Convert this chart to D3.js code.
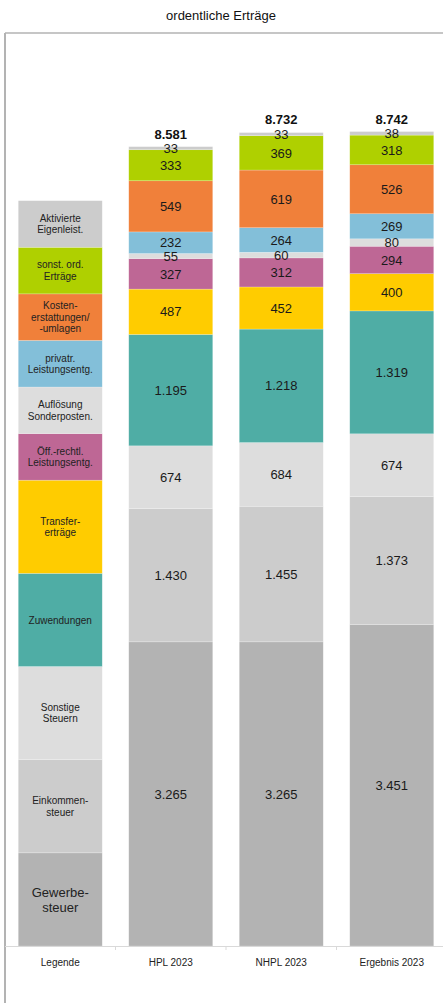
<!DOCTYPE html>
<html>
<head>
<meta charset="utf-8">
<script src="https://cdn.jsdelivr.net/npm/d3@7"></script>
<style>
  body { margin: 0; background: #fff; }
  text { font-family: "Liberation Sans", Arial, sans-serif; }
</style>
</head>
<body>
<div id="chart"></div>
<script>
// categories (x axis)
var categories = ["Legende", "HPL 2023", "NHPL 2023", "Ergebnis 2023"]

// series, bottom to top
var seriesKeys = ["Gewerbesteuer", "Einkommensteuer", "Sonstige Steuern", "Zuwendungen",
  "Transfererträge", "Öff.-rechtl. Leistungsentg.", "Auflösung Sonderposten",
  "privatr. Leistungsentg.", "Kostenerstattungen", "sonst. ord. Erträge", "Aktivierte Eigenleist."]
var seriesColors = ["#b3b3b3", "#cccccc", "#dddddd", "#4fada5", "#ffcc00", "#be6795",
  "#dddddd", "#83bfd9", "#f0803a", "#afd000", "#cccccc"]
// text shown inside the legend column
var legendLines = [["Gewerbe-", "steuer"], ["Einkommen-", "steuer"], ["Sonstige", "Steuern"],
  ["Zuwendungen"], ["Transfer-", "erträge"], ["Öff.-rechtl.", "Leistungsentg."],
  ["Auflösung", "Sonderposten."], ["privatr.", "Leistungsentg."],
  ["Kosten-", "erstattungen/", "-umlagen"], ["sonst. ord.", "Erträge"], ["Aktivierte", "Eigenleist."]]

// values per column (Mio. €), same order as seriesKeys
var legendValues = [1000, 1000, 1000, 1000, 1000, 500, 500, 500, 500, 500, 500]
var hpl2023 = [3265, 1430, 674, 1195, 487, 327, 55, 232, 549, 333, 33]
var nhpl2023 = [3265, 1455, 684, 1218, 452, 312, 60, 264, 619, 369, 33]
var ergebnis2023 = [3451, 1373, 674, 1319, 400, 294, 80, 269, 526, 318, 38]
var totals = [null, 8581, 8732, 8742]

var width = 443
var height = 1003
var baseY = 946
var topY = 33

var de = d3.formatLocale({ decimal: ",", thousands: ".", grouping: [3], currency: ["", " €"] })
var fmt = de.format(",d")

// build rows for the stack
var columns = [legendValues, hpl2023, nhpl2023, ergebnis2023]
var rows = categories.map(function (c, i) {
  var r = { cat: c, idx: i }
  seriesKeys.forEach(function (k, j) { r[k] = columns[i][j] })
  return r
})

var stack = d3.stack().keys(seriesKeys)
var layers = stack(rows)

var x = d3.scaleBand().domain(categories).range([5, 447]).padding(0)
var barW = x.bandwidth() * 0.76
var barOff = (x.bandwidth() - barW) / 2

var y = d3.scaleLinear().domain([0, 9800]).range([baseY, topY])

var color = d3.scaleOrdinal().domain(seriesKeys).range(seriesColors)

var svg = d3.select("#chart").append("svg")
  .attr("width", width)
  .attr("height", height)

// title
svg.append("text")
  .attr("x", 221)
  .attr("y", 20)
  .attr("text-anchor", "middle")
  .style("font-size", "13px")
  .attr("fill", "#111")
  .text("ordentliche Erträge")

// frame
svg.append("line").attr("x1", 5).attr("x2", 443).attr("y1", topY).attr("y2", topY)
  .attr("stroke", "#b3b3b3").attr("stroke-width", 1.5)
svg.append("line").attr("x1", 5).attr("x2", 5).attr("y1", topY).attr("y2", height)
  .attr("stroke", "#b3b3b3").attr("stroke-width", 2)

// bars
var groups = svg.selectAll("g.layer")
  .data(layers)
  .enter()
  .append("g")
  .attr("class", "layer")
  .attr("fill", function (d) { return color(d.key) })

groups.selectAll("rect")
  .data(function (d) { return d })
  .enter()
  .append("rect")
  .attr("x", function (d) { return x(d.data.cat) + barOff })
  .attr("width", barW)
  .attr("y", function (d) { return y(d[1]) })
  .attr("height", function (d) { return y(d[0]) - y(d[1]) })
  .attr("stroke", "rgba(255,255,255,0.35)")
  .attr("stroke-width", 0.6)

// value labels (not for the legend column)
layers.forEach(function (layer) {
  svg.selectAll(null)
    .data(layer.filter(function (d) { return d.data.idx > 0 }))
    .enter()
    .append("text")
    .attr("x", function (d) { return x(d.data.cat) + x.bandwidth() / 2 })
    .attr("y", function (d) { return (y(d[0]) + y(d[1])) / 2 })
    .attr("dy", "0.36em")
    .attr("text-anchor", "middle")
    .style("font-size", "13px")
    .attr("fill", "#1a1a1a")
    .text(function (d) { return fmt(d[1] - d[0]) })
})

// legend labels inside the legend column
var legendCol = layers.map(function (l, j) { return { seg: l[0], lines: legendLines[j], key: l.key } })
legendCol.forEach(function (item) {
  var cy = (y(item.seg[0]) + y(item.seg[1])) / 2
  var big = item.key === "Gewerbesteuer"
  var fs = big ? 13 : 10
  var lh = big ? 15 : 11.5
  var t = svg.append("text")
    .attr("text-anchor", "middle")
    .style("font-size", fs + "px")
    .attr("fill", "#222")
  item.lines.forEach(function (ln, i) {
    t.append("tspan")
      .attr("x", x("Legende") + x.bandwidth() / 2)
      .attr("y", cy + (i - (item.lines.length - 1) / 2) * lh)
      .attr("dy", "0.36em")
      .text(ln)
  })
})

// totals
svg.selectAll("text.total")
  .data(rows.filter(function (r) { return totals[r.idx] !== null }))
  .enter()
  .append("text")
  .attr("class", "total")
  .attr("x", function (d) { return x(d.cat) + x.bandwidth() / 2 })
  .attr("y", function (d) { return y(totals[d.idx]) - 8 })
  .attr("text-anchor", "middle")
  .style("font-size", "13px")
  .style("font-weight", "bold")
  .attr("fill", "#111")
  .text(function (d) { return fmt(totals[d.idx]) })

// x axis
var axis = svg.append("g").attr("transform", "translate(0," + baseY + ")")
axis.append("line").attr("x1", 5).attr("x2", 443).attr("y1", 0.5).attr("y2", 0.5)
  .attr("stroke", "#d9d9d9").attr("stroke-width", 1)
axis.selectAll("line.tick")
  .data(categories.slice(1))
  .enter()
  .append("line")
  .attr("class", "tick")
  .attr("x1", function (d) { return x(d) })
  .attr("x2", function (d) { return x(d) })
  .attr("y1", 0).attr("y2", 4)
  .attr("stroke", "#d9d9d9")
axis.selectAll("text")
  .data(categories)
  .enter()
  .append("text")
  .attr("x", function (d) { return x(d) + x.bandwidth() / 2 })
  .attr("y", 20)
  .attr("text-anchor", "middle")
  .style("font-size", "10px")
  .attr("fill", "#222")
  .text(function (d) { return d })
</script>
</body>
</html>
